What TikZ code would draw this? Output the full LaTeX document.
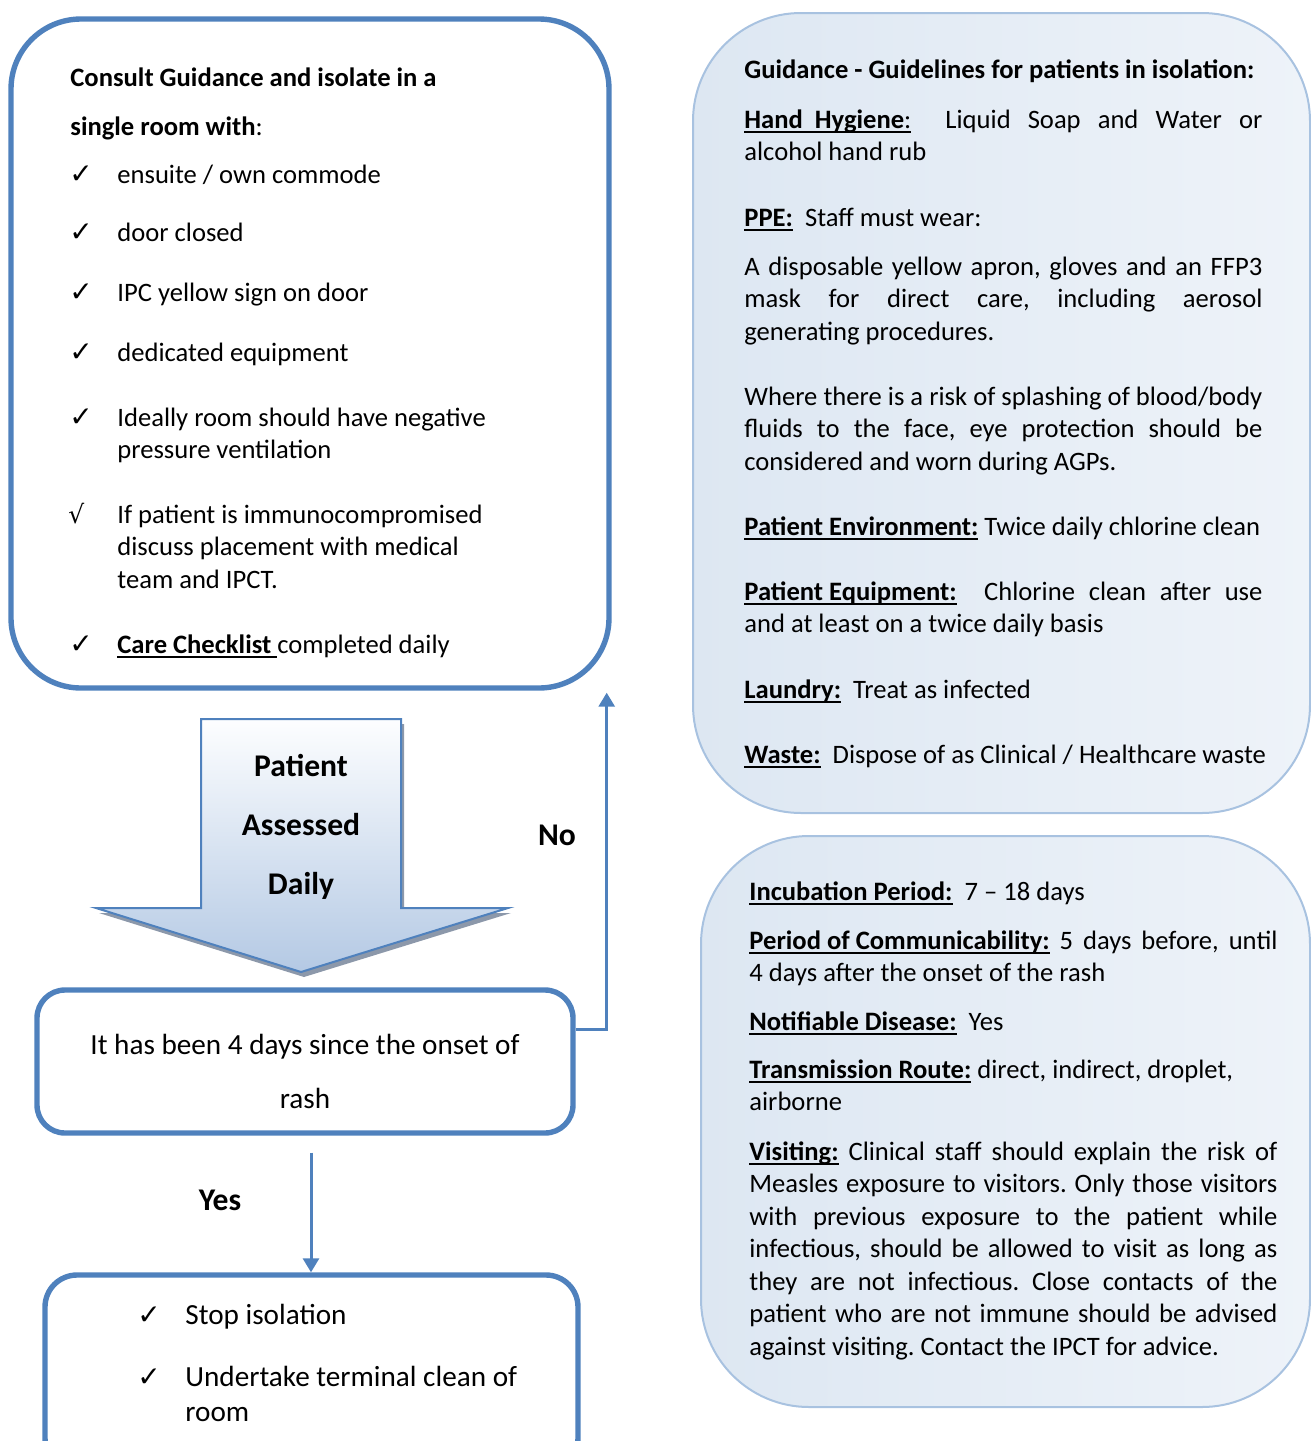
\documentclass[tikz,border=0pt]{standalone}
\usepackage{fontspec}
\setmainfont{Carlito}
\newfontfamily\symfont{DejaVu Sans}
\usetikzlibrary{arrows.meta}
\usetikzlibrary{calc}

\definecolor{boxblue}{RGB}{79,129,189}
\definecolor{paleblue}{RGB}{168,194,224}
\definecolor{fillleft}{RGB}{221,231,242}
\definecolor{fillright}{RGB}{238,243,249}
\definecolor{arrowtop}{RGB}{253,254,255}
\definecolor{arrowbottom}{RGB}{180,201,228}
\definecolor{shadowgray}{RGB}{140,152,170}

\frenchspacing
\newsavebox\ulsave
\newcommand{\ulbox}[1]{\sbox\ulsave{#1}\rlap{\rule[-2.2pt]{\wd\ulsave}{0.8pt}}\usebox\ulsave}
\newcommand{\chk}{{\symfont\fontsize{14}{14}\selectfont ✓}}
\newcommand{\sqrtmark}{{\symfont\fontsize{12.5}{12.5}\selectfont √}}
\newcommand{\bodyfont}{\fontsize{13.3}{16.25}\selectfont}

\tikzset{
  bluebox/.style={draw=boxblue, line width=2.7pt, rounded corners=#1, inner sep=0pt},
  palebox/.style={draw=paleblue, line width=1pt, left color=fillleft, right color=fillright, rounded corners=54pt, inner sep=0pt},
  txt/.style={anchor=north west, inner sep=0pt, yshift=#1, font=\bodyfont, align=left},
  txt/.default=11.4pt,
  jtxt/.style={txt, text width=#1, align=justify},
  conn/.style={draw=boxblue, line width=1.5pt, -{Triangle[width=8pt,length=7pt]}},
}

\begin{document}
\begin{tikzpicture}[x=0.5pt,y=-0.5pt]
\useasboundingbox (0,0) rectangle (1311,1441);

% boxes
\node[bluebox=35pt, minimum width=299pt, minimum height=334.5pt] (isolatebox) at (310,353.5) {};
\node[bluebox=14pt, minimum width=268pt, minimum height=71.5pt] (rashbox) at (305,1061.5) {};
\node[bluebox=16pt, minimum width=266.5pt, minimum height=97.5pt] (stopbox) at (311.5,1372.5) {};
\node[palebox, minimum width=308.5pt, minimum height=400pt] (guidebox) at (1001.5,413) {};
\node[palebox, minimum width=304.5pt, minimum height=285.5pt] (factbox) at (1005.5,1121.5) {};

% isolation box text
\node[txt, font=\bodyfont\bfseries] (consult) at (70,86) {\strut Consult Guidance and isolate in a};
\node[txt] (single) at (70,135) {\strut\textbf{single room with}:};
\node[txt] (ck1) at (69,183) {\strut\chk};
\node[txt] (ensuite) at (117,183) {\strut ensuite / own commode};
\node[txt] (ck2) at (69,241) {\strut\chk};
\node[txt] (door) at (117,241) {\strut door closed};
\node[txt] (ck3) at (69,301) {\strut\chk};
\node[txt] (sign) at (117,301) {\strut IPC yellow sign on door};
\node[txt] (ck4) at (69,361) {\strut\chk};
\node[txt] (equip) at (117,361) {\strut dedicated equipment};
\node[txt] (ck5) at (69,426) {\strut\chk};
\node[txt] (ideally) at (117,426) {\strut Ideally room should have negative\\pressure ventilation};
\node[txt] (ck6) at (68,523) {\strut\sqrtmark};
\node[txt] (immuno) at (117,523) {\strut If patient is immunocompromised\\discuss placement with medical\\team and IPCT.};
\node[txt] (ck7) at (69,653) {\strut\chk};
\node[txt] (checklist) at (117,653) {\strut\ulbox{\textbf{Care Checklist}\ }completed daily};

% assessment arrow
\fill[shadowgray, shift={(3,5)}] (201,719) -- (401,719) -- (401,908) -- (508,908) -- (301,972) -- (96,908) -- (201,908) -- cycle;
\draw[boxblue, line width=1pt, top color=arrowtop, bottom color=arrowbottom] (201,719) -- (401,719) -- (401,908) -- (508,908) -- (301,972) -- (96,908) -- (201,908) -- cycle;
\node[anchor=north, inner sep=0pt, yshift=20.65pt, font=\fontsize{15.8}{29.5}\selectfont\bfseries, align=center] (assess) at (301,776) {\strut Patient\\Assessed\\Daily};

% decision box
\node[anchor=north, inner sep=0pt, yshift=18.9pt, font=\fontsize{14.6}{27}\selectfont, align=center] (rashtext) at (305,1054) {\strut It has been 4 days since the onset of\\rash};

% connectors
\coordinate (notip) at ($(isolatebox.south east)+(-5,2)$);
\draw[conn] ($(rashbox.east)+(0,-32)$) -| (notip);
\draw[conn] ($(rashbox.south)+(6,17)$) coordinate (yesstart) -- (yesstart |- stopbox.north);
\node[anchor=base, inner sep=0pt, font=\fontsize{15.8}{19}\selectfont\bfseries] (nolabel) at (557,845) {No};
\node[anchor=base, inner sep=0pt, font=\fontsize{15.8}{19}\selectfont\bfseries] (yeslabel) at (220,1210) {Yes};

% stop box text
\node[txt=12.25pt, font=\fontsize{14.6}{17.5}\selectfont] (ck8) at (137,1324) {\strut\chk};
\node[txt=12.25pt, font=\fontsize{14.6}{17.5}\selectfont] (stop) at (185,1324) {\strut Stop isolation};
\node[txt=12.25pt, font=\fontsize{14.6}{17.5}\selectfont] (ck9) at (137,1386) {\strut\chk};
\node[txt=12.25pt, font=\fontsize{14.6}{17.5}\selectfont] (terminal) at (185,1386) {\strut Undertake terminal clean of\\room};

% guidance box text
\node[txt, font=\bodyfont\bfseries] (guidetitle) at (744,78) {\strut Guidance - Guidelines for patients in isolation:};
\node[jtxt=259pt] (hygiene) at (744,128) {\strut\ulbox{\textbf{Hand\ \ Hygiene}:}\ \ Liquid Soap and Water or\linebreak alcohol hand rub};
\node[txt] (ppe) at (744,226) {\strut\ulbox{\textbf{PPE:}}\ \ Staff must wear:};
\node[jtxt=259pt] (apron) at (744,275) {\strut A disposable yellow apron, gloves and an FFP3\linebreak mask for direct care, including aerosol\linebreak generating procedures.};
\node[jtxt=259pt] (splash) at (744,405) {\strut Where there is a risk of splashing of blood/body\linebreak fluids to the face, eye protection should be\linebreak considered and worn during AGPs.};
\node[txt] (environment) at (744,535) {\strut\ulbox{\textbf{Patient Environment:}} Twice daily chlorine clean};
\node[jtxt=259pt] (equipment) at (744,600) {\strut\ulbox{\textbf{Patient\ Equipment:}}\ \ Chlorine clean after use\linebreak and at least on a twice daily basis};
\node[txt] (laundry) at (744,698) {\strut\ulbox{\textbf{Laundry:}}\ \ Treat as infected};
\node[txt] (waste) at (744,763) {\strut\ulbox{\textbf{Waste:}}\ \ Dispose of as Clinical / Healthcare waste};

% facts box text
\node[txt] (incubation) at (749,900) {\strut\ulbox{\textbf{Incubation Period:}}\ \ 7 – 18 days};
\node[jtxt=264pt] (communicable) at (749,949) {\strut\ulbox{\textbf{Period of Communicability:}} 5 days before, until\linebreak 4 days after the onset of the rash};
\node[txt] (notifiable) at (749,1030) {\strut\ulbox{\textbf{Notifiable Disease:}}\ \ Yes};
\node[jtxt=264pt] (route) at (749,1078) {\strut\ulbox{\textbf{Transmission Route:}} direct, indirect, droplet,\newline airborne};
\node[jtxt=264pt] (visiting) at (749,1160) {\strut\ulbox{\textbf{Visiting:}} Clinical staff should explain the risk of\linebreak Measles exposure to visitors. Only those visitors\linebreak with previous exposure to the patient while\linebreak infectious, should be allowed to visit as long as\linebreak they are not infectious. Close contacts of the\linebreak patient who are not immune should be advised\linebreak against visiting. Contact the IPCT for advice.};

\end{tikzpicture}
\end{document}
